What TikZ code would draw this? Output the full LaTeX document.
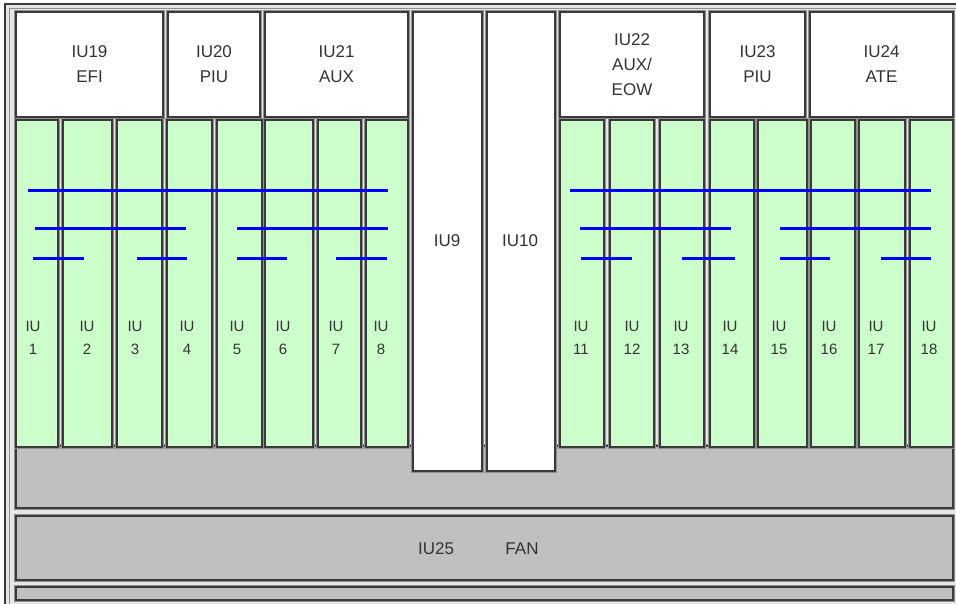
\documentclass[tikz,border=0pt]{standalone}
\usepackage{fontspec}
\setmainfont{Liberation Sans}
\definecolor{slotgreen}{HTML}{CCFFCC}
\definecolor{plategray}{HTML}{C0C0C0}
\definecolor{framegray}{HTML}{E6E6E6}
\definecolor{edgecol}{HTML}{3A3A3A}
\definecolor{halocol}{HTML}{909090}
\definecolor{txtcol}{HTML}{333333}
\definecolor{buscol}{HTML}{0000FF}
\newcommand\ubox[7]{%
  \node[#2, minimum width={#5-#3}, minimum height={#6-#4}] (#1) at ({(#3+#5)/2},{(#4+#6)/2}) {#7};}
\tikzset{
  unitbox/.style={draw=edgecol, line width=1.4pt, inner sep=0pt, outer sep=0pt,
    preaction={draw=halocol, line width=4pt}, text=txtcol, align=center,
    font=\fontsize{17}{25}\selectfont},
  whitebox/.style={unitbox, fill=white},
  slotbox/.style={unitbox, fill=slotgreen},
  platebox/.style={unitbox, fill=plategray},
  slotlabel/.style={text=txtcol, align=center, inner sep=0pt, font=\fontsize{15}{23}\selectfont},
  plainlabel/.style={text=txtcol, inner sep=0pt, font=\fontsize{17}{22}\selectfont},
  busline/.style={draw=buscol, line width=3pt},
}
\begin{document}
\begin{tikzpicture}[x=1pt, y=-1pt]
\useasboundingbox (0,0) rectangle (956,603);
% shelf frame
\draw[draw=edgecol, line width=1.6pt, fill=framegray] (5,4) rectangle (975,625);
\draw[draw=halocol, line width=0.8pt] (9,8) -- (9,625);
\draw[draw=halocol, line width=0.8pt] (9,8) -- (975,8);
% backplane and fan
\ubox{plate}{platebox}{16}{446}{953}{508}{}
\ubox{fan}{platebox}{16}{516}{953}{580}{}
\ubox{bottom}{platebox}{16}{587}{953}{600}{}
\node[plainlabel] (fanA) at (436,549) {IU25};
\node[plainlabel] (fanB) at (522,549) {FAN};
% slots left
\ubox{s1}{slotbox}{16}{120}{58}{447}{}
\ubox{s2}{slotbox}{63}{120}{112}{447}{}
\ubox{s3}{slotbox}{117}{120}{162}{447}{}
\ubox{s4}{slotbox}{167}{120}{212}{447}{}
\ubox{s5}{slotbox}{217}{120}{262}{447}{}
\ubox{s6}{slotbox}{265}{120}{313}{447}{}
\ubox{s7}{slotbox}{318}{120}{361}{447}{}
\ubox{s8}{slotbox}{366}{120}{408}{447}{}
% slots right
\ubox{s11}{slotbox}{560}{120}{604}{447}{}
\ubox{s12}{slotbox}{610}{120}{654}{447}{}
\ubox{s13}{slotbox}{660}{120}{704}{447}{}
\ubox{s14}{slotbox}{710}{120}{754}{447}{}
\ubox{s15}{slotbox}{758}{120}{807}{447}{}
\ubox{s16}{slotbox}{811}{120}{855}{447}{}
\ubox{s17}{slotbox}{859}{120}{905}{447}{}
\ubox{s18}{slotbox}{910}{120}{953}{447}{}
% top units
\ubox{u19}{whitebox}{16}{12}{163}{117}{IU19\\EFI}
\ubox{u20}{whitebox}{168}{12}{260}{117}{IU20\\PIU}
\ubox{u21}{whitebox}{265}{12}{408}{117}{IU21\\AUX}
\ubox{u22}{whitebox}{560}{12}{704}{117}{IU22\\AUX/\\EOW}
\ubox{u23}{whitebox}{710}{12}{805}{117}{IU23\\PIU}
\ubox{u24}{whitebox}{810}{12}{953}{117}{IU24\\ATE}
% full height units
\ubox{u9}{whitebox}{413}{12}{482}{471}{}
\ubox{u10}{whitebox}{487}{12}{555}{471}{}
\node[plainlabel] (l9) at (447,241) {IU9};
\node[plainlabel] (l10) at (520,241) {IU10};
% buses left
\draw[busline] (28,190.5) -- (388,190.5);
\draw[busline] (35,228) -- (186,228);
\draw[busline] (237,228) -- (388,228);
\draw[busline] (33,258) -- (84,258);
\draw[busline] (137,258) -- (187,258);
\draw[busline] (237,258) -- (287,258);
\draw[busline] (336,258) -- (387,258);
% buses right
\draw[busline] (570,190.5) -- (931,190.5);
\draw[busline] (580,228) -- (731,228);
\draw[busline] (780,228) -- (931,228);
\draw[busline] (581,258) -- (632,258);
\draw[busline] (682,258) -- (735,258);
\draw[busline] (780,258) -- (830,258);
\draw[busline] (881,258) -- (931,258);
% slot labels
\node[slotlabel] (t1) at (33,338) {IU\\1};
\node[slotlabel] (t2) at (87,338) {IU\\2};
\node[slotlabel] (t3) at (135,338) {IU\\3};
\node[slotlabel] (t4) at (187,338) {IU\\4};
\node[slotlabel] (t5) at (237,338) {IU\\5};
\node[slotlabel] (t6) at (283,338) {IU\\6};
\node[slotlabel] (t7) at (336,338) {IU\\7};
\node[slotlabel] (t8) at (381,338) {IU\\8};
\node[slotlabel] (t11) at (581,338) {IU\\11};
\node[slotlabel] (t12) at (632,338) {IU\\12};
\node[slotlabel] (t13) at (681,338) {IU\\13};
\node[slotlabel] (t14) at (730,338) {IU\\14};
\node[slotlabel] (t15) at (779,338) {IU\\15};
\node[slotlabel] (t16) at (829,338) {IU\\16};
\node[slotlabel] (t17) at (876,338) {IU\\17};
\node[slotlabel] (t18) at (929,338) {IU\\18};
\end{tikzpicture}
\end{document}
